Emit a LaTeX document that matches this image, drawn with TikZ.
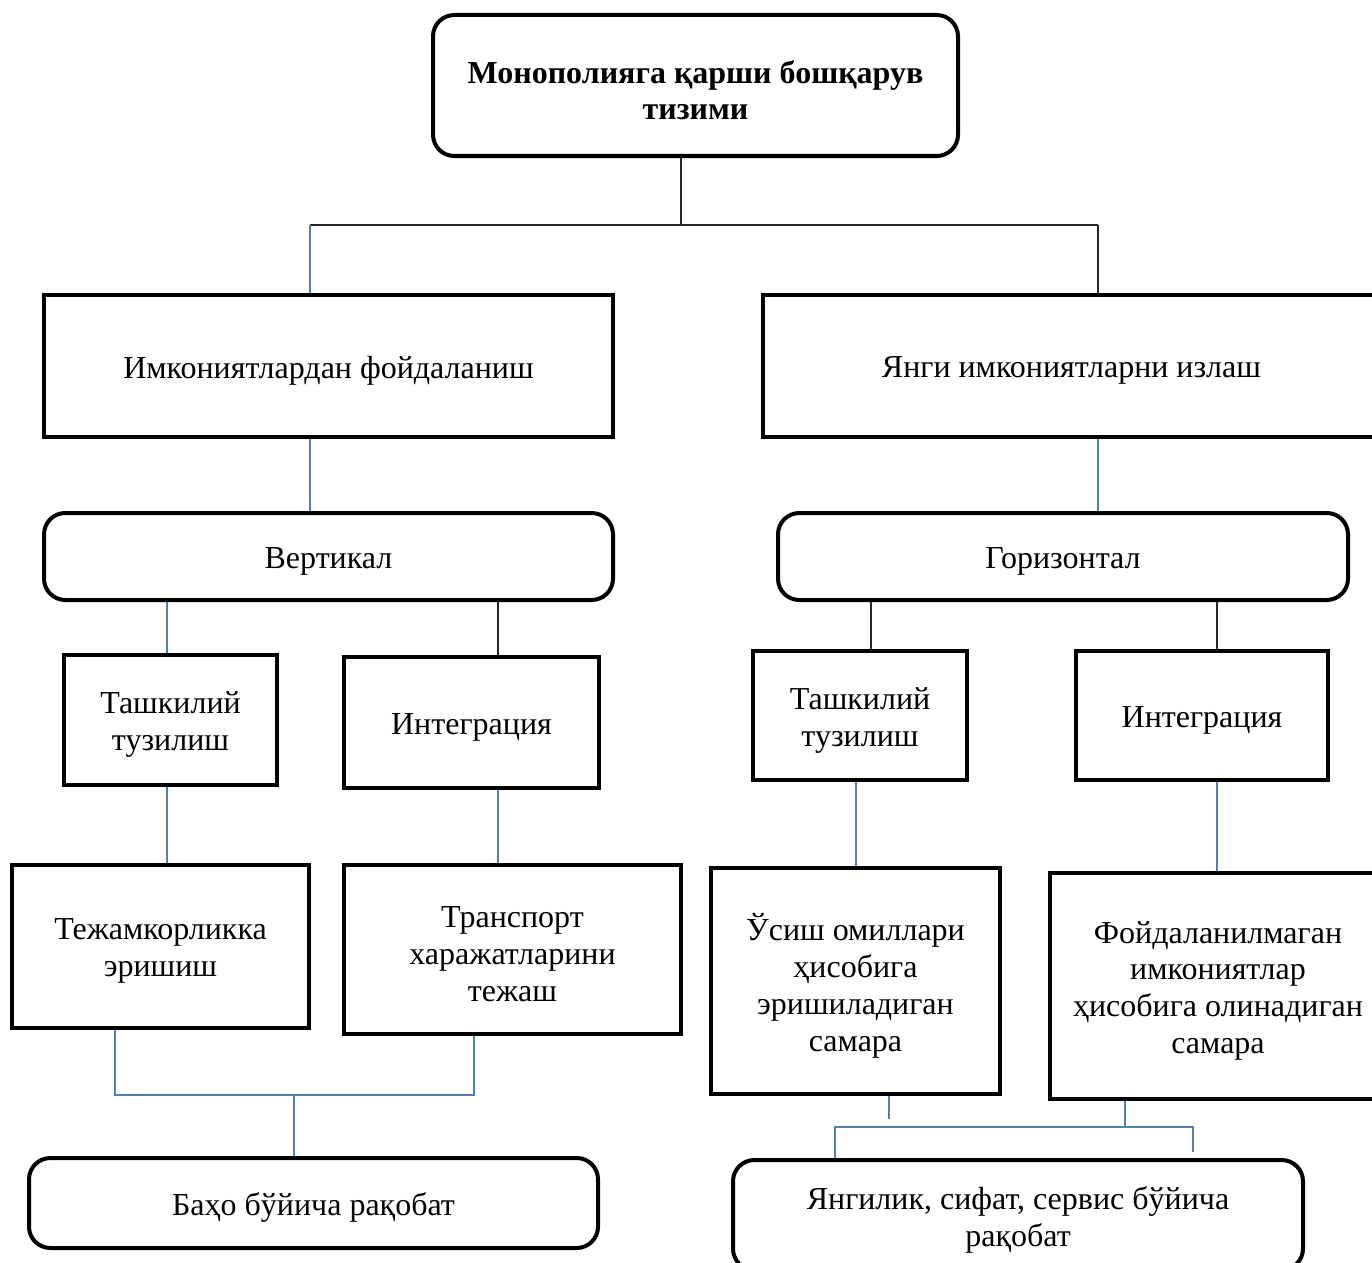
\documentclass[tikz,border=0pt]{standalone}
\usepackage{fontspec}
\setmainfont{Liberation Serif}
\definecolor{linkblue}{HTML}{4F81BD}
\begin{document}
\begin{tikzpicture}[x=0.75pt,y=-0.75pt,
  boxtext/.style={font=\fontsize{24}{27.6}\selectfont, align=center, inner sep=0pt, yshift=-3.5pt},
  txt/.style={label={[boxtext]center:{#1}}},
  sqbox/.style={draw, line width=3pt, rectangle, inner sep=0pt},
  rdbox/.style={draw, line width=3pt, rectangle, rounded corners=16pt, inner sep=0pt},
  blk/.style={draw=black!85, line width=1.1pt},
  blu/.style={draw=linkblue, line width=1.1pt}]
\useasboundingbox (0,0) rectangle (1372,1263);
\clip (0,0) rectangle (1372,1263);
\fill[white] (0,0) rectangle (1372,1263);

% boxes (sizes in pt), each carrying its text as a centred label
\node[rdbox, minimum width=393.75pt, minimum height=105.75pt, yshift=0pt,
  txt={\bfseries Монополияга қарши бошқарув\\\bfseries тизими}] (top) at (695.5,85.5) {};
\node[sqbox, minimum width=426.75pt, minimum height=106.5pt,
  txt={Имкониятлардан фойдаланиш}] (useopp) at (328.5,366) {};
\node[sqbox, minimum width=462.75pt, minimum height=106.5pt,
  txt={Янги имкониятларни излаш}] (newopp) at (1071.5,366) {};
\node[rdbox, minimum width=426.75pt, minimum height=65.25pt,
  txt={Вертикал}] (vert) at (328.5,556.5) {};
\node[rdbox, minimum width=427.5pt, minimum height=65.25pt,
  txt={Горизонтал}] (horz) at (1063,556.5) {};
\node[sqbox, minimum width=159.75pt, minimum height=97.5pt,
  txt={Ташкилий\\тузилиш}] (ltash) at (170.5,720) {};
\node[sqbox, minimum width=191.25pt, minimum height=98.25pt,
  txt={Интеграция}] (lint) at (471.5,722.5) {};
\node[sqbox, minimum width=160.5pt, minimum height=96.75pt,
  txt={Ташкилий\\тузилиш}] (rtash) at (860,715.5) {};
\node[sqbox, minimum width=189pt, minimum height=96.75pt,
  txt={Интеграция}] (rint) at (1202,715.5) {};
\node[sqbox, minimum width=222.75pt, minimum height=122.25pt,
  txt={Тежамкорликка\\эришиш}] (saving) at (160.5,946.5) {};
\node[sqbox, minimum width=252.75pt, minimum height=126.75pt,
  txt={Транспорт\\харажатларини\\тежаш}] (transp) at (512.5,949.5) {};
\node[sqbox, minimum width=216.75pt, minimum height=169.5pt,
  txt={Ўсиш омиллари\\ҳисобига\\эришиладиган\\самара}] (growth) at (855.5,981) {};
\node[sqbox, minimum width=252pt, minimum height=169.5pt,
  txt={Фойдаланилмаган\\имкониятлар\\ҳисобига олинадиган\\самара}] (unused) at (1218,986) {};
\node[rdbox, minimum width=426.75pt, minimum height=67.5pt,
  txt={Баҳо бўйича рақобат}] (price) at (313.5,1203) {};
\node[rdbox, minimum width=427.5pt, minimum height=82.5pt,
  txt={Янгилик, сифат, сервис бўйича\\рақобат}] (quality) at (1018,1215) {};

% junction points
\coordinate (jt) at (681,225);
\coordinate (jl) at (310,225);
\coordinate (jr) at (1098,225);
\coordinate (xa) at (167,0);
\coordinate (xb) at (498,0);
\coordinate (xc) at (871,0);
\coordinate (xd) at (1217,0);
\coordinate (xe) at (856,0);
\coordinate (bl1) at (115,1095);
\coordinate (bl2) at (474,1095);
\coordinate (blm) at (294,1095);
\coordinate (br1) at (889,1119);
\coordinate (br2) at (1125,1127);
\coordinate (brl) at (835,1127);
\coordinate (brr) at (1193,1127);
\coordinate (brre) at (1193,1152);

% top level
\draw[blk] (top.south -| jt) -- (jt);
\draw[blk] (jl) -- (jr);
\draw[blu] (jl) -- (jl |- useopp.north);
\draw[blk] (jr) -- (jr |- newopp.north);

% second level
\draw[blu] (useopp.south -| jl) -- (vert.north -| jl);
\draw[blu] (newopp.south -| jr) -- (horz.north -| jr);

% third level
\draw[blu] (vert.south -| xa) -- (ltash.north -| xa);
\draw[blk] (vert.south -| xb) -- (lint.north -| xb);
\draw[blk] (horz.south -| xc) -- (rtash.north -| xc);
\draw[blk] (horz.south -| xd) -- (rint.north -| xd);

% fourth level
\draw[blu] (ltash.south -| xa) -- (saving.north -| xa);
\draw[blu] (lint.south -| xb) -- (transp.north -| xb);
\draw[blu] (rtash.south -| xe) -- (growth.north -| xe);
\draw[blu] (rint.south -| xd) -- (unused.north -| xd);

% competition, left
\draw[blu] (saving.south -| bl1) -- (bl1) -- (bl2) -- (transp.south -| bl2);
\draw[blu] (blm) -- (price.north -| blm);

% competition, right
\draw[blu] (growth.south -| br1) -- (br1);
\draw[blu] (unused.south -| br2) -- (br2);
\draw[blu] (quality.north -| brl) -- (brl) -- (brr) -- (brre);
\end{tikzpicture}
\end{document}
